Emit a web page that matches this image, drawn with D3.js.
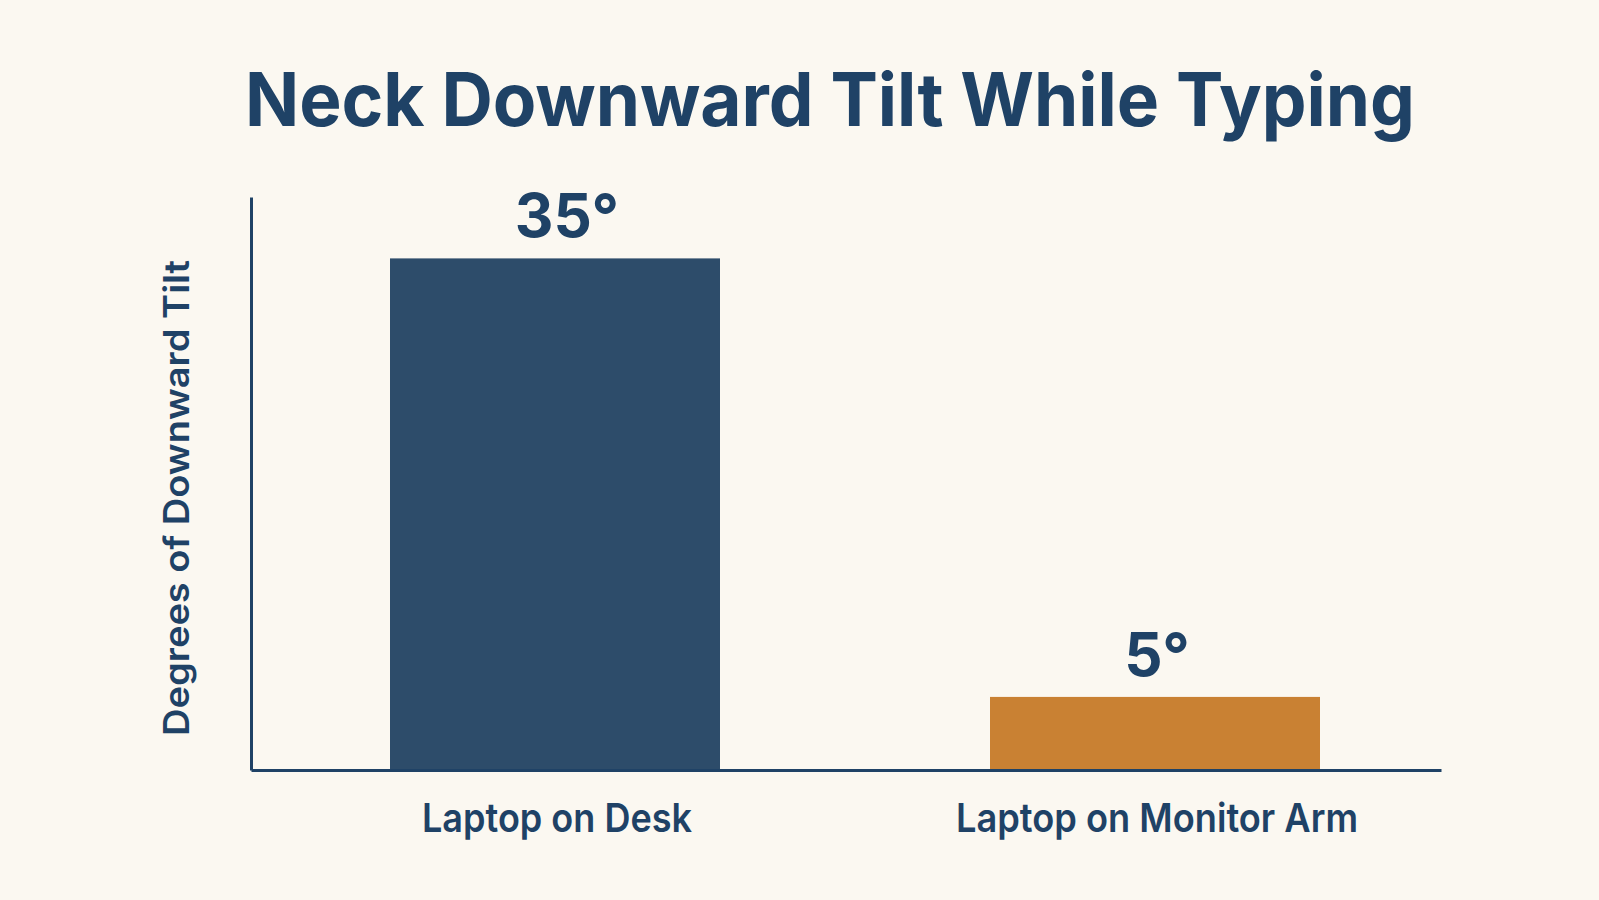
<!DOCTYPE html>
<html lang="en">
<head>
<meta charset="UTF-8">
<title>Neck Downward Tilt While Typing</title>
<style>
  html, body { margin: 0; padding: 0; background: #fbf8f1; }
  svg { display: block; }
</style>
</head>
<body>
<script src="https://cdn.jsdelivr.net/npm/d3@7"></script>
<script>
// data
var categories = ["Laptop on Desk", "Laptop on Monitor Arm"];
var values = [35, 5];
var valueLabels = ["35°", "5°"];
var barColors = ["#2d4c6a", "#c98133"];

var width = 1599, height = 900;
var ink = "#1f4266";

var svg = d3.select("body").append("svg")
    .attr("width", width).attr("height", height);

svg.append("rect").attr("width", width).attr("height", height).attr("fill", "#fbf8f1");

var x = d3.scaleBand().domain(categories).range([390, 1320]).paddingInner(0.45).paddingOuter(0);
var y = d3.scaleLinear().domain([0, 39.2]).range([770, 197]);

// title
svg.append("text")
    .attr("x", 830).attr("y", 126)
    .attr("text-anchor", "middle")
    .attr("font-family", "Inter, 'Open Sans', sans-serif")
    .attr("font-weight", 700)
    .attr("font-size", 74)
    .attr("fill", ink)
    .attr("textLength", 1170).attr("lengthAdjust", "spacingAndGlyphs")
    .text("Neck Downward Tilt While Typing");

// bars
var rows = categories.map(function(c, i) { return {cat: c, v: values[i], label: valueLabels[i], color: barColors[i]}; });

svg.append("g").selectAll("rect").data(rows).enter().append("rect")
    .attr("x", function(d) { return x(d.cat); })
    .attr("width", x.bandwidth())
    .attr("y", function(d) { return y(d.v); })
    .attr("height", function(d) { return y(0) - y(d.v); })
    .attr("fill", function(d) { return d.color; });

// value labels
svg.append("g").selectAll("text").data(rows).enter().append("text")
    .attr("x", function(d, i) { return x(d.cat) + x.bandwidth() / 2 + (i === 0 ? 12 : 2); })
    .attr("y", function(d) { return y(d.v) - 21; })
    .attr("text-anchor", "middle")
    .attr("font-family", "Inter, 'Open Sans', sans-serif")
    .attr("font-weight", 700)
    .attr("font-size", 60)
    .attr("fill", ink)
    .text(function(d) { return d.label; });

// axes
var xAxis = svg.append("g")
    .attr("transform", "translate(0," + y(0) + ")")
    .call(d3.axisBottom(d3.scaleLinear().range([251, 1441])).ticks(0).tickSizeOuter(0));
xAxis.select(".domain").attr("stroke", ink).attr("stroke-width", 3);

var yAxis = svg.append("g")
    .attr("transform", "translate(251,0)")
    .call(d3.axisLeft(y).ticks(0).tickSizeOuter(0));
yAxis.select(".domain").attr("stroke", ink).attr("stroke-width", 3);

// category labels
svg.append("g").selectAll("text").data(rows).enter().append("text")
    .attr("x", function(d) { return x(d.cat) + x.bandwidth() / 2 + 2; })
    .attr("y", 832)
    .attr("text-anchor", "middle")
    .attr("font-family", "Inter, 'Open Sans', sans-serif")
    .attr("font-weight", 600)
    .attr("font-size", 40)
    .attr("fill", ink)
    .attr("textLength", function(d, i) { return i === 0 ? 270 : 402; })
    .attr("lengthAdjust", "spacingAndGlyphs")
    .text(function(d) { return d.cat; });

// y axis title
svg.append("text")
    .attr("transform", "translate(189,498) rotate(-90)")
    .attr("text-anchor", "middle")
    .attr("font-family", "Inter, 'Open Sans', sans-serif")
    .attr("font-weight", 600)
    .attr("font-size", 35)
    .attr("fill", ink)
    .attr("textLength", 476).attr("lengthAdjust", "spacingAndGlyphs")
    .text("Degrees of Downward Tilt");
</script>
</body>
</html>
